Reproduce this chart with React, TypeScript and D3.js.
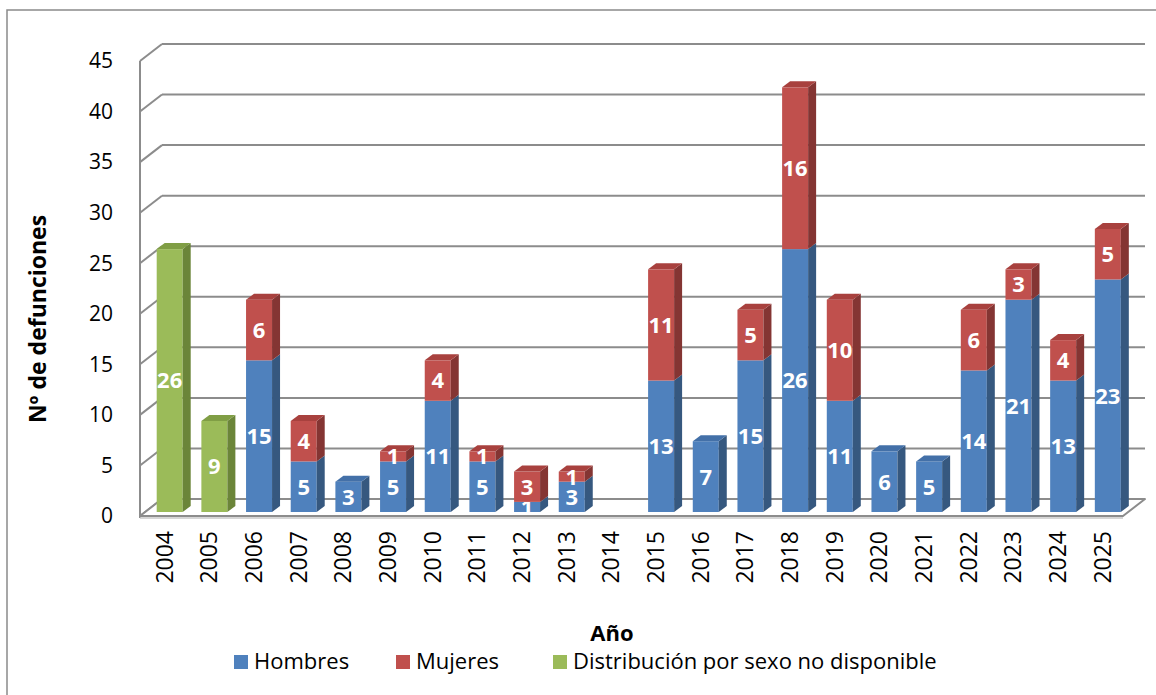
import React from "react";
import * as d3 from "d3";

// data
const years = ["2004", "2005", "2006", "2007", "2008", "2009", "2010", "2011", "2012", "2013", "2014",
  "2015", "2016", "2017", "2018", "2019", "2020", "2021", "2022", "2023", "2024", "2025"];
const hombres = [0, 0, 15, 5, 3, 5, 11, 5, 1, 3, 0, 13, 7, 15, 26, 11, 6, 5, 14, 21, 13, 23];
const mujeres = [0, 0, 6, 4, 0, 1, 4, 1, 3, 1, 0, 11, 0, 5, 16, 10, 0, 0, 6, 3, 4, 5];
const sinSexo = [26, 9, 0, 0, 0, 0, 0, 0, 0, 0, 0, 0, 0, 0, 0, 0, 0, 0, 0, 0, 0, 0];
const yTicks = [0, 5, 10, 15, 20, 25, 30, 35, 40, 45];

const seriesNames = ["Hombres", "Mujeres", "Distribución por sexo no disponible"];
const palette = [
  { front: "#4F81BD", side: "#36587f", top: "#4370a8" },
  { front: "#C0504D", side: "#843533", top: "#a8413e" },
  { front: "#9BBB59", side: "#6b8539", top: "#809e45" },
];

const FONT = "'Open Sans', 'DejaVu Sans', sans-serif";
const GRID = "#8c8c8c";

// 3D geometry
const DX = 22; // wall depth
const DY = 17;
const BDX = 8; // bar depth
const BDY = 6;
const BAR_OFF = 13; // bar front plane, px below back wall
const BAR_W = 26;

export default function App() {
  const yBack = d3.scaleLinear().domain([0, 45]).range([499, 44]);
  const x = d3.scaleBand<string>().domain(years).range([145.4, 1128.2]).padding(0);
  const barX = (yr: string) => (x(yr) as number) + 11.3;
  const yBar = (v: number) => yBack(v) + BAR_OFF;

  const rows = years.map((yr, i) => ({ yr, vals: [sinSexo[i], hombres[i], mujeres[i]], idx: [2, 0, 1] }));

  const x0 = 140;
  const backLeft = x0 + DX;
  const backRight = 1145;

  return (
    <svg width={1156} height={695} style={{ position: "absolute", left: 0, top: 0, background: "#fff" }}>
      <rect x={7} y={10} width={1170} height={700} fill="#fff" stroke="#8a8a8a" strokeWidth={1.5} />

      {/* walls */}
      {yTicks.map((t) => (
        <g key={t}>
          {t > 0 && (
            <line x1={backLeft} x2={backRight} y1={yBack(t)} y2={yBack(t)} stroke={GRID} strokeWidth={2} />
          )}
          <line x1={x0} y1={yBack(t) + DY} x2={backLeft} y2={yBack(t)} stroke={GRID} strokeWidth={2} />
          <text x={113} y={yBack(t) + DY} dy="0.35em" textAnchor="end" fontFamily={FONT} fontSize={21} fill="#000">
            {t}
          </text>
        </g>
      ))}
      <line x1={x0} x2={x0} y1={yBack(45) + DY} y2={yBack(0) + DY + 2} stroke={GRID} strokeWidth={2} />

      {/* floor */}
      <polygon
        points={`${x0},${yBack(0) + DY} ${backRight - DX},${yBack(0) + DY} ${backRight},${yBack(0)} ${backLeft},${yBack(0)}`}
        fill="#fff" stroke={GRID} strokeWidth={2} strokeLinejoin="round"
      />
      <line x1={x0} x2={backRight - DX} y1={yBack(0) + DY + 2} y2={yBack(0) + DY + 2} stroke="#c8c8c8" strokeWidth={1.5} />

      {/* bars */}
      {rows.map((r) => {
        const bx = barX(r.yr);
        let acc = 0;
        const segs = r.vals
          .map((v, k) => {
            const s = { v, c: palette[r.idx[k]], y0: acc, y1: acc + v };
            acc += v;
            return s;
          })
          .filter((s) => s.v > 0);
        return (
          <g key={r.yr}>
            {segs.map((s, k) => {
              const yt = yBar(s.y1);
              const yb = yBar(s.y0);
              const isTop = k === segs.length - 1;
              return (
                <g key={k}>
                  <rect x={bx} y={yt} width={BAR_W} height={yb - yt} fill={s.c.front} />
                  <polygon
                    points={`${bx + BAR_W},${yt} ${bx + BAR_W + BDX},${yt - BDY} ${bx + BAR_W + BDX},${yb - BDY} ${bx + BAR_W},${yb}`}
                    fill={s.c.side}
                  />
                  {isTop && (
                    <polygon
                      points={`${bx},${yt} ${bx + BDX},${yt - BDY} ${bx + BAR_W + BDX},${yt - BDY} ${bx + BAR_W},${yt}`}
                      fill={s.c.top}
                    />
                  )}
                  <text
                    x={bx + BAR_W / 2}
                    y={(yt + yb) / 2}
                    dy="0.36em"
                    textAnchor="middle"
                    fontFamily={FONT}
                    fontWeight="bold"
                    fontSize={22}
                    fill="#fff"
                  >
                    {s.v}
                  </text>
                </g>
              );
            })}
          </g>
        );
      })}

      {/* x tick labels */}
      {years.map((yr) => (
        <text
          key={yr}
          transform={`translate(${barX(yr) + BAR_W / 2 + 3},${531}) rotate(-90)`}
          textAnchor="end"
          fontFamily={FONT}
          fontSize={23}
          fill="#000"
        >
          {yr}
        </text>
      ))}

      {/* axis titles */}
      <text
        transform={`translate(46,319) rotate(-90)`}
        textAnchor="middle"
        fontFamily={FONT}
        fontWeight="bold"
        fontSize={23}
        fill="#000"
      >
        Nº de defunciones
      </text>
      <text x={612} y={641} textAnchor="middle" fontFamily={FONT} fontWeight="bold" fontSize={22} fill="#000">
        Año
      </text>

      {/* legend */}
      {[
        { lx: 234, i: 0 },
        { lx: 396, i: 1 },
        { lx: 553, i: 2 },
      ].map((l) => (
        <g key={l.i}>
          <rect x={l.lx} y={655} width={14} height={14} fill={palette[l.i].front} />
          <text x={l.lx + 20} y={669} fontFamily={FONT} fontSize={22} fill="#000">
            {seriesNames[l.i]}
          </text>
        </g>
      ))}
    </svg>
  );
}
